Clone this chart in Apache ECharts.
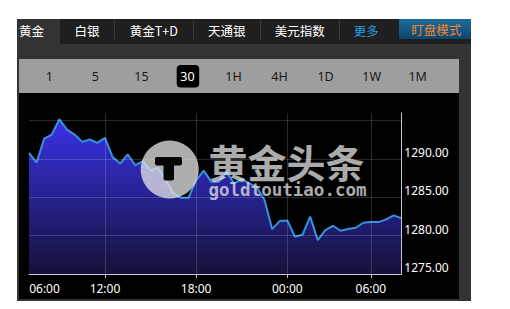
<!DOCTYPE html>
<html><head><meta charset="utf-8">
<script src="https://cdn.jsdelivr.net/npm/echarts@6/dist/echarts.min.js"></script>
<style>html,body{margin:0;padding:0;background:#fff;}#c{width:510px;height:309px;}</style>
</head><body><div id="c"></div>
<script>
const categories = ['06:00','07:30','08:00','08:30','09:00','09:30','10:00','10:30','11:00','11:30',
  '12:00','12:30','13:00','13:30','14:00','14:30','15:00','15:30','16:00','16:30','17:00','17:30',
  '18:00','18:30','19:00','19:30','20:00','20:30','21:00','21:30','22:00','22:30','23:00','23:30',
  '00:00','00:30','01:00','01:30','02:00','02:30','03:00','03:30','04:00','04:30','05:00',
  '06:00','06:30','07:00','07:30','08:00'];
const prices = [1290.79,1289.54,1292.67,1293.19,1295.18,1293.84,1293.19,1292.23,1292.54,1292.10,
  1292.75,1290.27,1289.41,1290.59,1289.19,1289.71,1288.54,1288.84,1287.24,1285.55,1284.93,1284.93,
  1287.24,1288.48,1287.02,1287.04,1288.32,1286.81,1287.37,1286.81,1286.29,1284.64,1280.86,1281.90,
  1281.99,1279.86,1280.12,1282.49,1279.43,1280.73,1281.29,1280.64,1280.86,1281.03,1281.68,
  1281.77,1281.77,1282.12,1282.64,1282.29];
const xTickLabels = ['06:00','12:00','18:00','00:00'];
const yTickLabels = ['1275.00','1280.00','1285.00','1290.00'];
const tabs = ['黄金','白银','黄金T+D','天通银','美元指数','更多'];
const periods = ['1','5','15','30','1H','4H','1D','1W','1M'];
const modeLabel = '盯盘模式';
const brandCn = '黄金头条';
const brandUrl = 'goldtoutiao.com';

const CJK = '"Noto Sans CJK SC", "Noto Sans", sans-serif';
const tabX = [31.5, 87, 153.8, 226.7, 299.7, 366.3];
const g = [];
// panel
g.push({type:'rect', z:-10, shape:{x:17,y:19,width:454,height:282}, style:{fill:'#333333'}});
g.push({type:'rect', z:-9, shape:{x:17,y:19,width:454,height:25}, style:{fill:'#1f1f1f'}});
g.push({type:'rect', z:-8, shape:{x:17,y:19,width:43,height:25}, style:{fill:'#333333'}});
[114.5,193.5,260.5,339.5].forEach(x=>g.push({type:'line', z:-8, shape:{x1:x,y1:20,x2:x,y2:39}, style:{stroke:'#3c3c3c',lineWidth:1}}));
g.push({type:'rect', z:-8, shape:{x:399,y:19,width:72,height:20}, style:{fill:new echarts.graphic.LinearGradient(0,0,0,1,[{offset:0,color:'#1d6c98'},{offset:1,color:'#0c466c'}])}});
tabs.forEach((t,i)=>g.push({type:'text', z:-7, x:tabX[i], y:30, style:{text:t, fill: i===5?'#22a2e8':'#ffffff', fontSize:12.5, fontFamily:CJK, align:'center', verticalAlign:'middle'}}));
g.push({type:'text', z:-7, x:436.3, y:29.5, style:{text:modeLabel, fill:'#f5842c', fontSize:12.5, fontFamily:CJK, align:'center', verticalAlign:'middle'}});
// period bar
g.push({type:'rect', z:-9, shape:{x:19,y:59,width:440,height:34}, style:{fill:'#9e9e9e'}});
g.push({type:'rect', z:-8, shape:{x:176.7,y:65,width:22.5,height:22.5,r:4}, style:{fill:'#000'}});
periods.forEach((p,i)=>g.push({type:'text', z:-7, x:49.3+i*46.05, y:76.7, style:{text:p, fill: p==='30'?'#ffffff':'#1a1a1a', fontSize:12.5, fontFamily:'"Noto Sans", sans-serif', align:'center', verticalAlign:'middle'}}));
// chart background
g.push({type:'rect', z:-9, shape:{x:19,y:93,width:440,height:206}, style:{fill:'#000'}});
// watermark
const wm = 'rgba(228,228,228,0.76)';
g.push({type:'circle', z:100, shape:{cx:169.7,cy:169.5,r:29}, style:{fill:wm}});
g.push({type:'rect', z:101, shape:{x:155,y:157,width:27,height:8.5,r:2}, style:{fill:'#050505'}});
g.push({type:'rect', z:101, shape:{x:163.5,y:160,width:10.5,height:20.5,r:2}, style:{fill:'#050505'}});
g.push({type:'text', z:100, x:208.5, y:161, style:{text:brandCn, fill:wm, fontSize:39, lineHeight:34, fontWeight:'bold', fontFamily:CJK, align:'left', verticalAlign:'middle'}});
g.push({type:'text', z:100, x:208.5, y:190, style:{text:brandUrl, fill:wm, fontSize:17.5, lineHeight:13, fontWeight:'bold', fontFamily:'"DejaVu Sans Mono", monospace', align:'left', verticalAlign:'middle'}});

const axisColor = '#c6c6d6';
const gridLine = 'rgba(255,255,255,0.16)';
const chart = echarts.init(document.getElementById('c'), null, {renderer:'svg'});
chart.setOption({
  animation:false,
  graphic:g,
  grid:{left:29, right:108.7, top:113, bottom:35},
  xAxis:{
    type:'category', data:categories, boundaryGap:false, z:3,
    axisLine:{show:true, lineStyle:{color:axisColor, width:1}},
    axisTick:{show:true, length:4, interval:(i,v)=> i>0 && xTickLabels.includes(v), lineStyle:{color:axisColor}},
    axisLabel:{interval:(i,v)=> xTickLabels.includes(v), color:'#fff', fontSize:12, fontFamily:'"Noto Sans", sans-serif', margin:8,
      formatter:(v,i)=> i===0 ? '{f|'+v+'}' : v,
      rich:{f:{padding:[0,0,0,31], color:'#fff', fontSize:12, fontFamily:'"Noto Sans", sans-serif'}}},
    splitLine:{show:true, interval:(i,v)=> i>0 && xTickLabels.includes(v), lineStyle:{color:gridLine, width:1}}
  },
  yAxis:{
    type:'value', position:'right', min:1275, max:1296, interval:5, z:3,
    axisLine:{show:true, lineStyle:{color:axisColor, width:1}},
    axisTick:{show:false},
    axisLabel:{color:'#fff', fontSize:12, fontFamily:'"Noto Sans", sans-serif', margin:3, verticalAlign:'bottom', lineHeight:13,
      formatter:(v)=> yTickLabels.includes(v.toFixed(2)) ? v.toFixed(2) : ''},
    splitLine:{show:true, showMinLine:false, showMaxLine:false, lineStyle:{color:gridLine, width:1}}
  },
  series:[{
    type:'line', data:prices, symbol:'none', smooth:false, z:2,
    lineStyle:{color:'#3592e0', width:2},
    areaStyle:{opacity:1, color:new echarts.graphic.LinearGradient(0,0,0,1,[{offset:0,color:'#3a31e6'},{offset:1,color:'#141238'}])}
  }]
});
</script></body></html>
